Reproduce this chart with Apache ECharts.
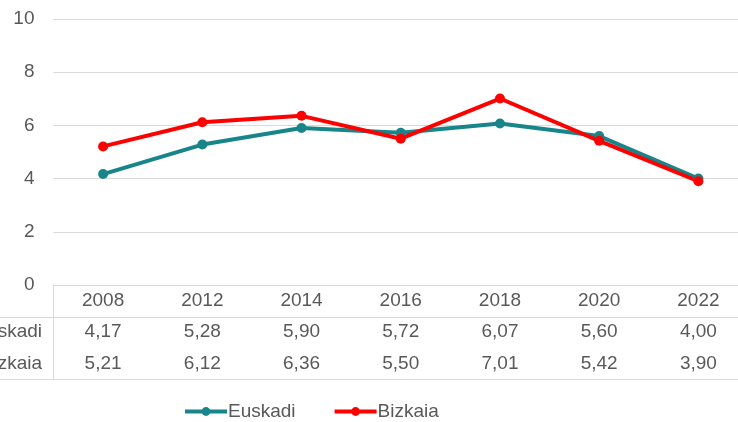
<!DOCTYPE html>
<html>
<head>
<meta charset="utf-8">
<script src="https://cdn.jsdelivr.net/npm/echarts@6/dist/echarts.min.js"></script>
<style>
  html, body { margin: 0; padding: 0; overflow: hidden; background: #fff; }
  #main { width: 748px; height: 422px; }
</style>
</head>
<body>
<div id="main"></div>
<script>
// data
const years = ["2008", "2012", "2014", "2016", "2018", "2020", "2022"];
const euskadi = [4.17, 5.28, 5.90, 5.72, 6.07, 5.60, 4.00];
const bizkaia = [5.21, 6.12, 6.36, 5.50, 7.01, 5.42, 3.90];
const yTicks = [0, 2, 4, 6, 8, 10];

const txt = "#595959";
const gridCol = "#d9d9d9";
const font = "Liberation Sans";
const fs = 19;

const fmt = v => v.toFixed(2).replace(".", ",");

// extra category axes used as data-table rows
function rowAxis(offset, values, showLine, margin) {
  return {
    type: "category",
    data: years,
    position: "bottom",
    offset: offset,
    axisTick: { show: false },
    axisLine: { show: showLine, lineStyle: { color: gridCol, width: 1 } },
    axisLabel: {
      show: !!values,
      margin: margin,
      color: txt,
      fontSize: fs,
      fontFamily: font,
      formatter: (v, i) => values ? fmt(values[i]) : ""
    }
  };
}

const chart = echarts.init(document.getElementById("main"));
chart.setOption({
  animation: false,
  grid: { left: 53.5, right: 0, top: 19, bottom: 137 },
  xAxis: [
    {
      type: "category",
      data: years,
      axisTick: { show: false },
      axisLine: { lineStyle: { color: gridCol, width: 1 } },
      axisLabel: { margin: 6, color: txt, fontSize: fs, fontFamily: font }
    },
    rowAxis(32, euskadi, true, 5),
    rowAxis(63, bizkaia, false, 6),
    rowAxis(94, null, true, 0)
  ],
  yAxis: {
    type: "value",
    min: yTicks[0],
    max: yTicks[yTicks.length - 1],
    interval: 2,
    axisLine: { show: false },
    axisTick: { show: false },
    splitLine: { lineStyle: { color: gridCol, width: 1 } },
    axisLabel: { margin: 19, color: txt, fontSize: fs, fontFamily: font }
  },
  legend: {
    left: 178,
    top: 397,
    itemWidth: 42,
    itemHeight: 11,
    itemGap: 37,
    lineStyle: { width: 4 },
    textStyle: { color: txt, fontSize: fs, fontFamily: font, padding: [0, 0, 0, -4] },
    data: ["Euskadi", "Bizkaia"]
  },
  graphic: [
    { type: "line", shape: { x1: 0, y1: 317.5, x2: 54, y2: 317.5 }, style: { stroke: gridCol, lineWidth: 1 } },
    { type: "line", shape: { x1: 0, y1: 379.5, x2: 54, y2: 379.5 }, style: { stroke: gridCol, lineWidth: 1 } },
    { type: "line", shape: { x1: 53.5, y1: 285, x2: 53.5, y2: 380 }, style: { stroke: gridCol, lineWidth: 1 } },
    { type: "text", right: 706, top: 322, style: { text: "Euskadi", fill: txt, font: fs + "px " + font, textAlign: "right" } },
    { type: "text", right: 706, top: 354, style: { text: "Bizkaia", fill: txt, font: fs + "px " + font, textAlign: "right" } }
  ],
  series: [
    {
      name: "Euskadi",
      type: "line",
      data: euskadi,
      symbol: "circle",
      symbolSize: 10,
      lineStyle: { color: "#17858a", width: 4 },
      itemStyle: { color: "#17858a" }
    },
    {
      name: "Bizkaia",
      type: "line",
      data: bizkaia,
      symbol: "circle",
      symbolSize: 10,
      lineStyle: { color: "#ff0000", width: 4 },
      itemStyle: { color: "#ff0000" }
    }
  ]
});
window.onresize = chart.resize;
</script>
</body>
</html>
